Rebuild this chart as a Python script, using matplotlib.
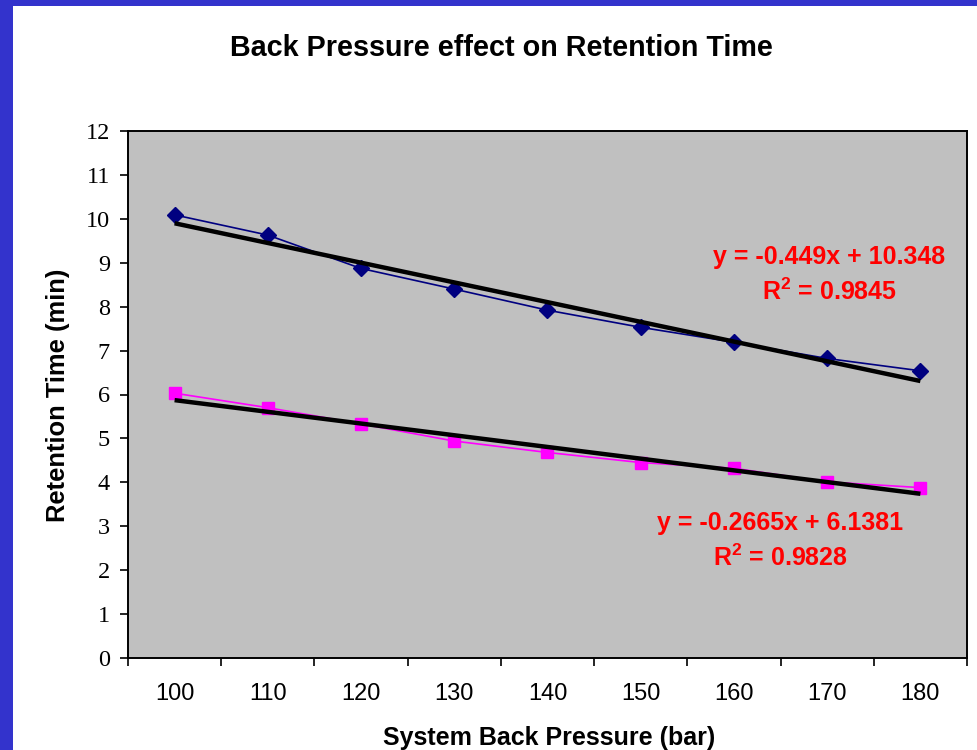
import numpy as np
import matplotlib
matplotlib.use('Agg')
import matplotlib.pyplot as plt
from matplotlib.patches import Rectangle

pressure = [100, 110, 120, 130, 140, 150, 160, 170, 180]
rt_blue = [10.09, 9.63, 8.87, 8.40, 7.92, 7.53, 7.19, 6.82, 6.54]
rt_pink = [6.03, 5.70, 5.33, 4.94, 4.68, 4.45, 4.32, 4.01, 3.88]

# trendline coefficients as shown on the chart (x = point number 1..9)
fit_blue = (-0.449, 10.348, 0.9845)
fit_pink = (-0.2665, 6.1381, 0.9828)

plt.rcParams['font.family'] = ['Liberation Sans', 'DejaVu Sans']
plt.rcParams['mathtext.fontset'] = 'custom'
plt.rcParams['mathtext.bf'] = 'Liberation Sans:bold'
plt.rcParams['mathtext.rm'] = 'Liberation Sans'

fig = plt.figure(figsize=(9.78, 7.5), dpi=100)

# blue frame around the slide
fig.patches.append(Rectangle((0, 0), 1, 1, transform=fig.transFigure,
                             facecolor='#3333CC', edgecolor='none', zorder=-2))
fig.patches.append(Rectangle((13/978, 0), 1, 1 - 6/750, transform=fig.transFigure,
                             facecolor='white', edgecolor='none', zorder=-1))

ax = fig.add_axes([128/978, 1 - 658/750, (967 - 128)/978, (658 - 131)/750])
ax.set_facecolor('#C0C0C0')

x = np.arange(len(pressure))
n = x + 1

def draw_series(vals, fit, color, marker, ms):
    ax.plot(x, vals, color=color, lw=1.2, marker=marker, ms=ms, zorder=3)
    slope, icept, r2 = fit
    ax.plot(x, slope * n + icept, color='black', lw=3.2, solid_capstyle='butt', zorder=4)

draw_series(rt_blue, fit_blue, '#000080', 'D', 8.5)
draw_series(rt_pink, fit_pink, '#FF00FF', 's', 9)

ax.set_xlim(-0.5, len(pressure) - 0.5)
ax.set_ylim(0, 12)
ax.set_yticks(range(0, 13))
ax.set_yticklabels([str(v) for v in range(0, 13)], family='Liberation Serif', fontsize=17.5)
ax.set_xticks(x)
ax.set_xticklabels([str(p) for p in pressure], fontsize=17)
ax.set_xticks(np.arange(-0.5, len(pressure)), minor=True)
ax.tick_params(axis='x', which='major', length=0, pad=18)
ax.tick_params(axis='x', which='minor', length=6, width=1.2, direction='out')
ax.tick_params(axis='y', length=6, width=1.2, direction='out', pad=7)
for s in ax.spines.values():
    s.set_linewidth(1.4)

fig.text(501/978, 1 - 48/750, 'Back Pressure effect on Retention Time', fontsize=20.7,
         fontweight='bold', ha='center', va='center')
fig.text(549/978, 1 - 738/750, 'System Back Pressure (bar)', fontsize=18,
         fontweight='bold', ha='center', va='center')
fig.text(58/978, 1 - 395/750, 'Retention Time (min)', fontsize=18.4,
         fontweight='bold', ha='center', va='center', rotation=90)

red = '#FF0000'
def fit_label(xc, y1, y2, fit):
    slope, icept, r2 = fit
    sign = '+' if icept >= 0 else '-'
    ax.text(xc, y1, f'y = {slope:g}x {sign} {abs(icept):g}', color=red, fontsize=18,
            fontweight='bold', ha='center', va='center')
    ax.text(xc, y2, r'R$^{\mathbf{2}}$' + f' = {r2:.4f}', color=red, fontsize=18,
            fontweight='bold', ha='center', va='center')

fit_label(7.02, 9.13, 8.33, fit_blue)
fit_label(6.5, 3.07, 2.28, fit_pink)

fig.savefig('out.png', dpi=100)
